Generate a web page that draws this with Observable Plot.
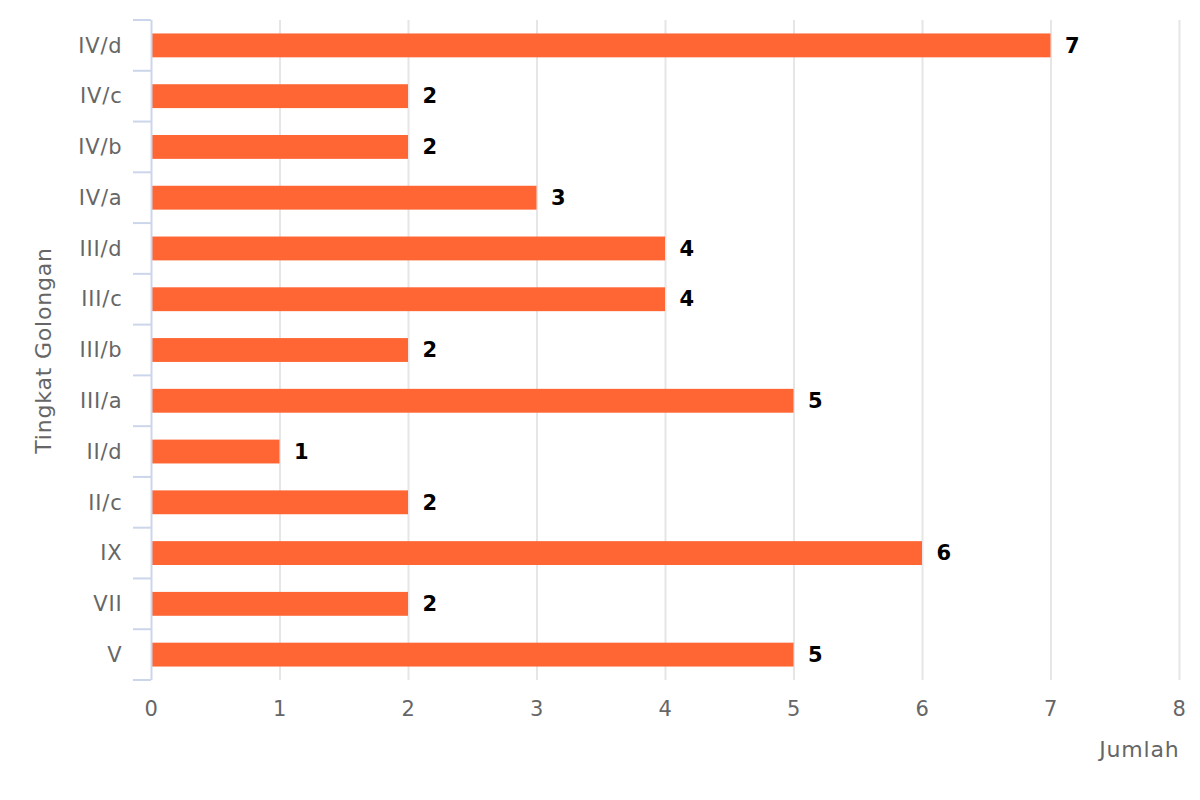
<!DOCTYPE html>
<html>
<head>
<meta charset="utf-8">
<script src="https://cdn.jsdelivr.net/npm/d3@7"></script>
<script src="https://cdn.jsdelivr.net/npm/@observablehq/plot@0.6"></script>
<style>
  html, body { margin: 0; padding: 0; background: #fff; }
  svg text { letter-spacing: 0.8px; }
</style>
</head>
<body>
<div id="chart"></div>
<script>
const categories = ["IV/d", "IV/c", "IV/b", "IV/a", "III/d", "III/c", "III/b", "III/a", "II/d", "II/c", "IX", "VII", "V"];
const values = [7, 2, 2, 3, 4, 4, 2, 5, 1, 2, 6, 2, 5];
const xTicks = [0, 1, 2, 3, 4, 5, 6, 7, 8];
const xTitle = "Jumlah";
const yTitle = "Tingkat Golongan";

const data = categories.map((c, i) => ({cat: c, value: values[i]}));

const font = "'DejaVu Sans', sans-serif";
const axisColor = "#ccd6eb";

// category boundary ticks (Highcharts "between" tick placement)
function boundaryTicks(index, scales, values, dims) {
  const g = d3.create("svg:g");
  const n = categories.length;
  const top = dims.marginTop, bottom = dims.height - dims.marginBottom;
  const step = (bottom - top) / n;
  const x0 = scales.x(0);
  for (let k = 0; k <= n; k++) {
    const y = top + k * step;
    g.append("line")
      .attr("x1", x0 - 18).attr("x2", x0)
      .attr("y1", y).attr("y2", y)
      .attr("stroke", axisColor).attr("stroke-width", 2);
  }
  return g.node();
}

const chart = Plot.plot({
  width: 1200,
  height: 800,
  marginLeft: 151,
  marginRight: 21,
  marginTop: 20,
  marginBottom: 120,
  style: {fontFamily: font, color: "#666", background: "#fff"},
  x: {domain: [0, 8]},
  y: {domain: categories, paddingInner: 0.53, paddingOuter: 0.265, round: false},
  marks: [
    Plot.ruleX(xTicks.slice(1), {stroke: "#e6e6e6", strokeWidth: 2}),
    Plot.barX(data, {x: "value", y: "cat", fill: "#ff6633"}),
    Plot.text(data, {x: "value", y: "cat", text: d => String(d.value), dx: 14, textAnchor: "start",
      fontWeight: "bold", fontSize: 21, fill: "#000"}),
    Plot.axisX({ticks: xTicks, tickSize: 0, tickPadding: 21, fontSize: 21, label: null, tickFormat: d => String(d)}),
    Plot.axisY({tickSize: 0, tickPadding: 29, fontSize: 21, label: null}),
    Plot.ruleX([0], {stroke: axisColor, strokeWidth: 2}),
    boundaryTicks,
    Plot.text([xTitle], {frameAnchor: "bottom-right", text: d => d, textAnchor: "end", lineAnchor: "middle",
      dy: 69, fontSize: 22, fill: "#666"}),
    Plot.text([yTitle], {frameAnchor: "left", text: d => d, rotate: -90, textAnchor: "middle", lineAnchor: "middle",
      dx: -108, fontSize: 22, fill: "#666"})
  ]
});

document.getElementById("chart").appendChild(chart);
</script>
</body>
</html>
